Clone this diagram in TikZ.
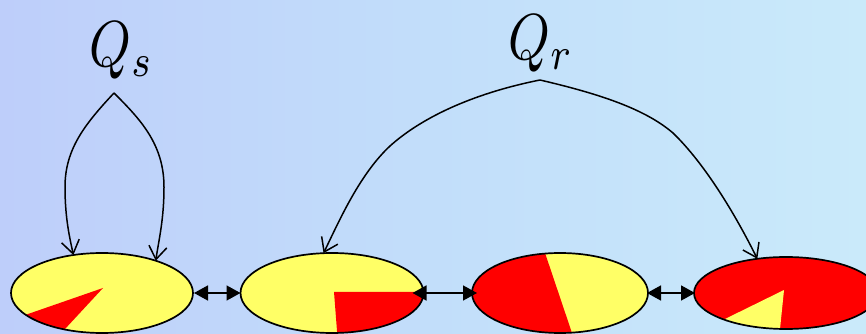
\documentclass[tikz,border=0pt]{standalone}
\usepackage{graphicx}
\usetikzlibrary{shapes.geometric,arrows.meta}
\definecolor{bgleft}{RGB}{190,206,250}
\definecolor{bgmid}{RGB}{194,222,250}
\definecolor{bgright}{RGB}{202,234,250}
\definecolor{pyellow}{RGB}{255,255,102}
\definecolor{pred}{RGB}{255,0,0}
\tikzset{
  blob/.style={ellipse, draw=black, line width=1.7pt, inner sep=0pt, outer sep=0pt},
  qlabel/.style={anchor=base west, inner sep=0pt},
  feed/.style={line width=1.5pt, -{Straight Barb[length=13pt,width=18pt,line width=1.5pt]}},
  link/.style={line width=1.6pt, {Triangle[length=14pt,width=15pt]}-{Triangle[length=14pt,width=15pt]}},
}
\begin{document}
\begin{tikzpicture}[x=1pt,y=1pt]
\useasboundingbox (0,0) rectangle (866,334);
\shade[left color=bgleft, right color=bgright, middle color=bgmid] (0,0) rectangle (866,334);

% ellipses (path picture coordinates are relative to node centre)
\node[blob, minimum width=182pt, minimum height=80pt, fill=pyellow,
  path picture={\fill[pred] (1,5) -- (-149,-47) -- (-75,-77) -- cycle;}] (e1) at (102,41) {};
\node[blob, minimum width=183pt, minimum height=80pt, fill=pyellow,
  path picture={\fill[pred] (2,1) -- (108,1) -- (108,-51) -- (6,-51) -- cycle;}] (e2) at (332,41) {};
\node[blob, minimum width=176pt, minimum height=80pt, fill=pyellow,
  path picture={\fill[pred] (-18,49) -- (15,-49) -- (-100,-49) -- (-100,49) -- cycle;}] (e3) at (560,41) {};
\node[blob, minimum width=184pt, minimum height=72pt, fill=pred,
  path picture={\fill[pyellow] (-2,3) -- (-120,-55) -- (-10,-75) -- cycle;}] (e4) at (786,41) {};

% labels
\node[qlabel] (qs) at (89,267) {\scalebox{5.3}[6.5]{$Q_{s}$}};
\node[qlabel] (qr) at (508,274) {\scalebox{5.3}[6.5]{$Q_{r}$}};
\coordinate (qsa) at (114,241);
\coordinate (qra) at (540,254);

% feed curves
\draw[feed] (qsa) .. controls (85,210) and (65,185) .. (65,147)
  .. controls (65,115) and (70,95) .. (e1.127);
\draw[feed] (qsa) .. controls (140,215) and (164,190) .. (164,147)
  .. controls (164,115) and (159,95) .. (e1.31);
\draw[feed] (qra) .. controls (470,240) and (420,215) .. (390,188)
  .. controls (360,160) and (340,115) .. (e2.102);
\draw[feed] (qra) .. controls (600,240) and (645,225) .. (673,201)
  .. controls (705,170) and (735,120) .. (e4.130);

% links
\draw[link, shorten <=1pt, shorten >=0pt] (e1.east) -- (e2.west);
\draw[link, shorten <=-11pt, shorten >=-5pt] (e2.east) -- (e3.west);
\draw[link, shorten <=-1pt, shorten >=-1pt] (e3.east) -- (e4.west);
\end{tikzpicture}
\end{document}
